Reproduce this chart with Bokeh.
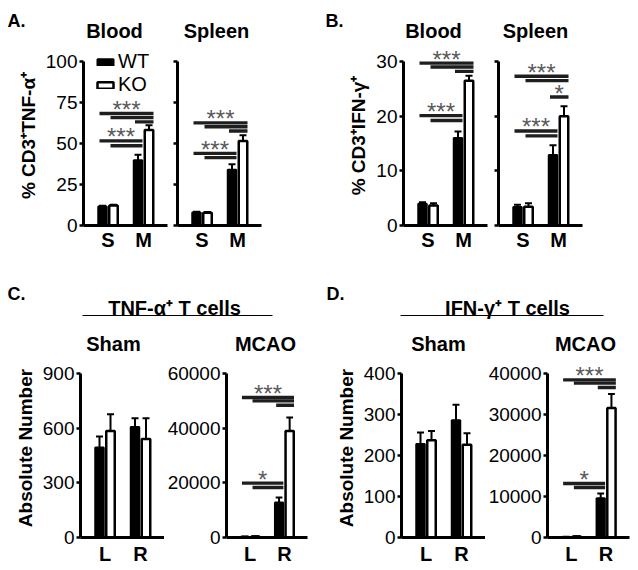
from bokeh.plotting import figure
from bokeh.layouts import column, row
from bokeh.models import Range1d, FixedTicker, Legend, LegendItem
from bokeh.embed import file_html
from bokeh.resources import INLINE
from bokeh.core.properties import value

FONT = "Liberation Sans"

# ---------------- data ----------------
cats_top = ["S", "M"]
cats_bottom = ["L", "R"]
legend_labels = ["WT", "KO"]

a_ticks = [0, 25, 50, 75, 100]
b_ticks = [0, 10, 20, 30]
c_sham_ticks = [0, 300, 600, 900]
c_mcao_ticks = [0, 20000, 40000, 60000]
d_sham_ticks = [0, 100, 200, 300, 400]
d_mcao_ticks = [0, 10000, 20000, 30000, 40000]

# A: % CD3+TNF-a+
a_blood_wt = [11.6, 39.8]
a_blood_wt_err = [0.4, 3.4]
a_blood_ko = [12.2, 58.2]
a_blood_ko_err = [0.5, 3.0]
a_blood_sig_from = [0, 1, 2, 0, 1]
a_blood_sig_to = [3, 3, 3, 2, 2]
a_blood_sig_y = [68.3, 65.8, 63.2, 51.6, 48.6]
a_blood_stars = ["***", "***"]
a_blood_star_line = [0, 3]

a_spleen_wt = [8.0, 34.0]
a_spleen_wt_err = [0.4, 3.4]
a_spleen_ko = [7.8, 51.5]
a_spleen_ko_err = [0.4, 3.5]
a_spleen_sig_from = [0, 1, 2, 0, 1]
a_spleen_sig_to = [3, 3, 3, 2, 2]
a_spleen_sig_y = [62.6, 60.2, 57.6, 44.0, 41.4]
a_spleen_stars = ["***", "***"]
a_spleen_star_line = [0, 3]

# B: % CD3+IFN-g+
b_blood_wt = [3.97, 16.0]
b_blood_wt_err = [0.3, 1.2]
b_blood_ko = [3.66, 26.5]
b_blood_ko_err = [0.4, 0.9]
b_blood_sig_from = [0, 1, 2, 0, 1]
b_blood_sig_to = [3, 3, 3, 2, 2]
b_blood_sig_y = [29.7, 29.0, 28.2, 20.1, 19.2]
b_blood_stars = ["***", "***"]
b_blood_star_line = [0, 3]

b_spleen_wt = [3.4, 12.9]
b_spleen_wt_err = [0.4, 1.8]
b_spleen_ko = [3.45, 20.0]
b_spleen_ko_err = [0.6, 1.8]
b_spleen_sig_from = [0, 1, 2, 0, 1]
b_spleen_sig_to = [3, 3, 3, 2, 2]
b_spleen_sig_y = [27.3, 26.5, 23.5, 17.3, 16.4]
b_spleen_stars = ["***", "*", "***"]
b_spleen_star_line = [0, 2, 3]

# C: TNF-a+ T cells, absolute number
c_sham_wt = [494, 607]
c_sham_wt_err = [60, 48]
c_sham_ko = [585, 540]
c_sham_ko_err = [92, 115]

c_mcao_wt = [300, 12800]
c_mcao_wt_err = [50, 1830]
c_mcao_ko = [400, 39000]
c_mcao_ko_err = [80, 4900]
c_mcao_sig_from = [0, 1, 2, 0, 1]
c_mcao_sig_to = [3, 3, 3, 2, 2]
c_mcao_sig_y = [51200, 50000, 48400, 19900, 18300]
c_mcao_stars = ["***", "*"]
c_mcao_star_line = [0, 3]

# D: IFN-g+ T cells, absolute number
d_sham_wt = [228, 286]
d_sham_wt_err = [28, 38]
d_sham_ko = [237, 226]
d_sham_ko_err = [23, 28]

d_mcao_wt = [150, 9600]
d_mcao_wt_err = [30, 1130]
d_mcao_ko = [250, 31560]
d_mcao_ko_err = [50, 3410]
d_mcao_sig_from = [0, 1, 2, 0, 1]
d_mcao_sig_to = [3, 3, 3, 2, 2]
d_mcao_sig_y = [38450, 37660, 36600, 13170, 12200]
d_mcao_stars = ["***", "*"]
d_mcao_star_line = [0, 3]


# ---------------- helpers ----------------
AXIS_PX = 164  # pixel length of every value axis


def make_panel(width, height, left, right, top, bottom, ymax, yticks, show_ylabels,
               cats, wt, wt_err, ko, ko_err,
               sig_from=(), sig_to=(), sig_y=(), stars=(), star_line=(),
               ylabel=None, legend=False, xstandoff=3):
    fw = width - left - right
    fh = height - top - bottom
    unit = 35.5           # px between group centres
    x_start = -24.5 / unit
    p = figure(width=width, height=height, title=None,
               x_range=Range1d(x_start, x_start + fw / unit),
               y_range=Range1d(0, ymax * fh / AXIS_PX),
               output_backend="svg", toolbar_location=None,
               min_border_left=left, min_border_right=right,
               min_border_top=top, min_border_bottom=bottom)
    p.outline_line_color = None
    p.grid.visible = False
    p.background_fill_color = "white"
    p.border_fill_color = "white"

    bw = 8.5 / unit
    off = 5.5 / unit
    gx = list(range(len(cats)))
    wt_x = [g - off for g in gx]
    ko_x = [g + off for g in gx]
    r_wt = p.vbar(x=wt_x, top=wt, width=bw, fill_color="black",
                  line_color="black", line_width=2)
    r_ko = p.vbar(x=ko_x, top=ko, width=bw, fill_color="white",
                  line_color="black", line_width=2.5)

    cap = 3.5 / unit
    for xs_, v, e in ((wt_x, wt, wt_err), (ko_x, ko, ko_err)):
        tops = [a + b for a, b in zip(v, e)]
        p.segment(x0=xs_, x1=xs_, y0=v, y1=tops, line_color="black", line_width=2)
        p.segment(x0=[x - cap for x in xs_], x1=[x + cap for x in xs_],
                  y0=tops, y1=tops, line_color="black", line_width=2)

    if len(sig_y):
        centers = [wt_x[0], ko_x[0], wt_x[1], ko_x[1]]
        sx0 = [centers[i] - 3 / unit for i in sig_from]
        sx1 = [centers[j] + 4.5 / unit for j in sig_to]
        p.segment(x0=sx0, x1=sx1, y0=list(sig_y), y1=list(sig_y),
                  line_color="#1e1e1e", line_width=3.4)
        p.text(x=[(sx0[k] + sx1[k]) / 2 for k in star_line],
               y=[sig_y[k] for k in star_line], text=list(stars),
               text_align="center", text_baseline="alphabetic", y_offset=-4,
               text_font=value(FONT), text_font_size="24px", text_color="#5a5a5a")

    # x axis
    xa = p.xaxis[0]
    xa.ticker = FixedTicker(ticks=gx)
    xa.major_label_overrides = {g: c for g, c in zip(gx, cats)}
    xa.major_label_text_font = FONT
    xa.major_label_text_font_size = "20px"
    xa.major_label_text_font_style = "bold"
    xa.major_label_text_color = "black"
    xa.major_tick_out = 0
    xa.major_tick_in = 0
    xa.minor_tick_out = 0
    xa.minor_tick_in = 0
    xa.major_label_standoff = xstandoff
    xa.axis_line_width = 3
    xa.axis_line_color = "black"

    # y axis
    ya = p.yaxis[0]
    ya.bounds = (0, ymax)
    ya.ticker = FixedTicker(ticks=yticks)
    ya.major_tick_out = 4
    ya.major_tick_in = 0
    ya.minor_tick_out = 0
    ya.minor_tick_in = 0
    ya.major_tick_line_width = 2.5
    ya.major_tick_line_color = "black"
    ya.axis_line_width = 3
    ya.axis_line_color = "black"
    ya.major_label_text_font = FONT
    ya.major_label_text_font_size = "19px"
    ya.major_label_text_color = "black"
    if show_ylabels:
        ya.major_label_standoff = 2
    else:
        ya.major_label_standoff = 0
        ya.major_label_overrides = {t: "" for t in yticks}
    if ylabel:
        ya.axis_label = ylabel
        ya.axis_label_text_font = FONT
        ya.axis_label_text_font_size = "19px"
        ya.axis_label_text_font_style = "bold"
        ya.axis_label_text_color = "black"
        ya.axis_label_standoff = 4

    if legend:
        lg = Legend(items=[LegendItem(label=legend_labels[0], renderers=[r_wt]),
                           LegendItem(label=legend_labels[1], renderers=[r_ko])],
                    location=(12, 129), orientation="vertical",
                    glyph_width=20, glyph_height=8, label_standoff=3,
                    label_text_font=FONT, label_text_font_size="20px",
                    label_text_color="black", spacing=0, padding=0, margin=0,
                    border_line_alpha=0, background_fill_alpha=0,
                    label_height=22)
        p.add_layout(lg)
    return p


def header(width, height):
    h = figure(width=width, height=height, title=None, x_range=Range1d(0, width),
               y_range=Range1d(height, 0), x_axis_type=None, y_axis_type=None,
               output_backend="svg", toolbar_location=None, min_border=0)
    h.outline_line_color = None
    h.grid.visible = False
    return h


def htext(h, x, y, txt, size="20px", align="center"):
    h.text(x=[x], y=[y], text=[txt], text_align=align, text_baseline="alphabetic",
           text_font=value(FONT), text_font_size=size, text_font_style="bold",
           text_color="black")


# ---------------- header rows (page pixels) ----------------
h1 = header(638, 45)
htext(h1, 7, 20, "A.", "18px", "left")
htext(h1, 114, 30, "Blood")
htext(h1, 216, 30, "Spleen")
htext(h1, 325, 20, "B.", "18px", "left")
htext(h1, 433, 30, "Blood")
htext(h1, 535, 30, "Spleen")

h2 = header(638, 82)
htext(h2, 7, 17, "C.", "18px", "left")
htext(h2, 174, 31, "TNF-α⁺ T cells")
h2.segment(x0=[82], x1=[272], y0=[39], y1=[39], line_color="black", line_width=1.2)
htext(h2, 113, 67, "Sham")
htext(h2, 265, 67, "MCAO")
htext(h2, 326, 17, "D.", "18px", "left")
htext(h2, 507, 31, "IFN-γ⁺ T cells")
h2.segment(x0=[400], x1=[603], y0=[39], y1=[39], line_color="black", line_width=1.2)
htext(h2, 438, 67, "Sham")
htext(h2, 585, 67, "MCAO")

# ---------------- panels ----------------
R1H, R1T, R1B = 231, 0, 51
A1 = make_panel(169, R1H, 83, 2, R1T, R1B, 100, a_ticks, True, cats_top,
                a_blood_wt, a_blood_wt_err, a_blood_ko, a_blood_ko_err,
                a_blood_sig_from, a_blood_sig_to, a_blood_sig_y, a_blood_stars,
                a_blood_star_line, ylabel="% CD3⁺TNF-α⁺", legend=True)
A2 = make_panel(149, R1H, 8, 57, R1T, R1B, 100, a_ticks, False, cats_top,
                a_spleen_wt, a_spleen_wt_err, a_spleen_ko, a_spleen_ko_err,
                a_spleen_sig_from, a_spleen_sig_to, a_spleen_sig_y, a_spleen_stars,
                a_spleen_star_line)
B1 = make_panel(171, R1H, 85, 2, R1T, R1B, 30, b_ticks, True, cats_top,
                b_blood_wt, b_blood_wt_err, b_blood_ko, b_blood_ko_err,
                b_blood_sig_from, b_blood_sig_to, b_blood_sig_y, b_blood_stars,
                b_blood_star_line, ylabel="% CD3⁺IFN-γ⁺")
B2 = make_panel(149, R1H, 9, 56, R1T, R1B, 30, b_ticks, False, cats_top,
                b_spleen_wt, b_spleen_wt_err, b_spleen_ko, b_spleen_ko_err,
                b_spleen_sig_from, b_spleen_sig_to, b_spleen_sig_y, b_spleen_stars,
                b_spleen_star_line)

R2H, R2T, R2B = 212, 0, 33
C1 = make_panel(164, R2H, 80, 0, R2T, R2B, 900, c_sham_ticks, True, cats_bottom,
                c_sham_wt, c_sham_wt_err, c_sham_ko, c_sham_ko_err,
                ylabel="Absolute Number", xstandoff=5)
C2 = make_panel(154, R2H, 59, 11, R2T, R2B, 60000, c_mcao_ticks, True, cats_bottom,
                c_mcao_wt, c_mcao_wt_err, c_mcao_ko, c_mcao_ko_err,
                c_mcao_sig_from, c_mcao_sig_to, c_mcao_sig_y, c_mcao_stars,
                c_mcao_star_line, xstandoff=5)
D1 = make_panel(167, R2H, 83, 0, R2T, R2B, 400, d_sham_ticks, True, cats_bottom,
                d_sham_wt, d_sham_wt_err, d_sham_ko, d_sham_ko_err,
                ylabel="Absolute Number", xstandoff=5)
D2 = make_panel(153, R2H, 60, 9, R2T, R2B, 40000, d_mcao_ticks, True, cats_bottom,
                d_mcao_wt, d_mcao_wt_err, d_mcao_ko, d_mcao_ko_err,
                d_mcao_sig_from, d_mcao_sig_to, d_mcao_sig_y, d_mcao_stars,
                d_mcao_star_line, xstandoff=5)

layout = column(h1, row(A1, A2, B1, B2, spacing=0), h2, row(C1, C2, D1, D2, spacing=0),
                spacing=0)

open("out.html", "w").write(file_html(layout, INLINE))
